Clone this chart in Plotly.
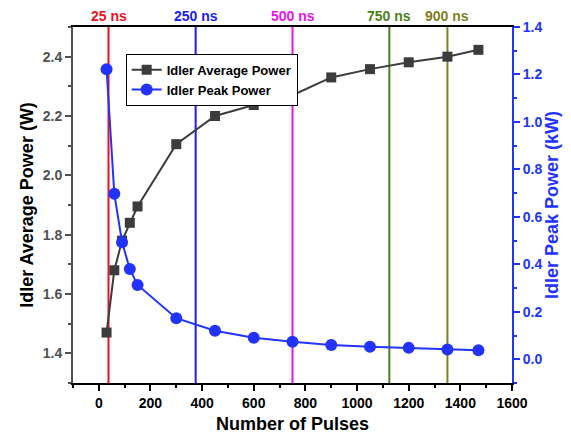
import plotly.graph_objects as go

# Measured data
pulses = [30, 60, 90, 120, 150, 300, 450, 600, 750, 900, 1050, 1200, 1350, 1470]
avg_power_w = [1.47, 1.68, 1.78, 1.84, 1.895, 2.105, 2.20, 2.237, 2.27, 2.33, 2.358, 2.381, 2.40, 2.423]
peak_power_kw = [1.222, 0.697, 0.493, 0.380, 0.313, 0.173, 0.120, 0.091, 0.074, 0.060, 0.053, 0.048, 0.041, 0.038]

# Pulse-width reference markers (number of pulses, label, colour)
ref_pulses = [37.5, 375, 750, 1125, 1350]
ref_labels = ["25 ns", "250 ns", "500 ns", "750 ns", "900 ns"]
ref_colors = ["#e8141c", "#1a1aff", "#e614e6", "#4f7f1a", "#80801a"]

FONT = "Arial, Liberation Sans, sans-serif"
BLUE = "#2233ff"
GRAY = "#3c3c3c"
AXGRAY = "#505050"


def font(size, color="black"):
    return dict(family=FONT, size=size, color=color, weight="bold")


fig = go.Figure()

fig.add_trace(go.Scatter(
    x=pulses, y=avg_power_w, name="<b>Idler Average Power</b>",
    mode="lines+markers",
    line=dict(color=GRAY, width=2),
    marker=dict(symbol="square", size=10, color=GRAY),
    yaxis="y",
))
fig.add_trace(go.Scatter(
    x=pulses, y=peak_power_kw, name="<b>Idler Peak Power</b>",
    mode="lines+markers",
    line=dict(color=BLUE, width=2),
    marker=dict(symbol="circle", size=12, color=BLUE),
    yaxis="y2",
))

for xp, lab, col in zip(ref_pulses, ref_labels, ref_colors):
    fig.add_shape(type="line", xref="x", yref="paper", x0=xp, x1=xp, y0=0, y1=1,
                  line=dict(color=col, width=2), layer="below")
    fig.add_annotation(x=xp, y=1, xref="x", yref="paper", yanchor="bottom",
                       text=f"<b>{lab}</b>", showarrow=False, yshift=1,
                       font=font(14, col))

# x-axis title placed a little lower than the default standoff allows
fig.add_annotation(x=0.5, y=0, xref="paper", yref="paper", xanchor="center", yanchor="top",
                   text="<b>Number of Pulses</b>", showarrow=False, yshift=-29,
                   font=font(18))

bold_ticks = dict(tickprefix="<b>", ticksuffix="</b>")

fig.update_layout(
    width=571, height=435,
    margin=dict(l=73, r=55, t=27, b=52),
    paper_bgcolor="white", plot_bgcolor="white",
    font=font(13),
    showlegend=True,
    legend=dict(x=0.12, y=0.925, xanchor="left", yanchor="top",
                bgcolor="white", bordercolor="black", borderwidth=1,
                font=font(13), tracegroupgap=0, itemwidth=30),
    xaxis=dict(
        range=[-100, 1600], tickmode="linear", tick0=0, dtick=200,
        showline=True, linecolor="black", linewidth=2, mirror=True,
        ticks="outside", ticklen=6, tickwidth=2, tickcolor="black",
        minor=dict(ticks="outside", ticklen=3, tickwidth=2, tickcolor="black", dtick=100),
        showgrid=False, zeroline=False, automargin=False,
        tickfont=font(14), **bold_ticks,
    ),
    yaxis=dict(
        range=[1.3, 2.5], tickmode="linear", tick0=1.4, dtick=0.2, tickformat=".1f",
        showline=True, linecolor=AXGRAY, linewidth=2,
        ticks="outside", ticklen=6, tickwidth=2, tickcolor=AXGRAY,
        minor=dict(ticks="outside", ticklen=3, tickwidth=2, tickcolor=AXGRAY, dtick=0.1),
        showgrid=False, zeroline=False,
        tickfont=font(14, AXGRAY), **bold_ticks,
        title=dict(text="<b>Idler Average Power (W)</b>", font=font(18), standoff=4),
    ),
    yaxis2=dict(
        range=[-0.1, 1.4], tickmode="linear", tick0=0, dtick=0.2, tickformat=".1f",
        overlaying="y", side="right", anchor="x",
        showline=True, linecolor=BLUE, linewidth=2,
        ticks="outside", ticklen=6, tickwidth=2, tickcolor=BLUE,
        minor=dict(ticks="outside", ticklen=3, tickwidth=2, tickcolor=BLUE, dtick=0.1),
        showgrid=False, zeroline=False,
        tickfont=font(14, BLUE), **bold_ticks,
        title=dict(text="<b>Idler Peak Power (kW)</b>", font=font(18, BLUE), standoff=4),
    ),
)

fig.write_html("out.html")
